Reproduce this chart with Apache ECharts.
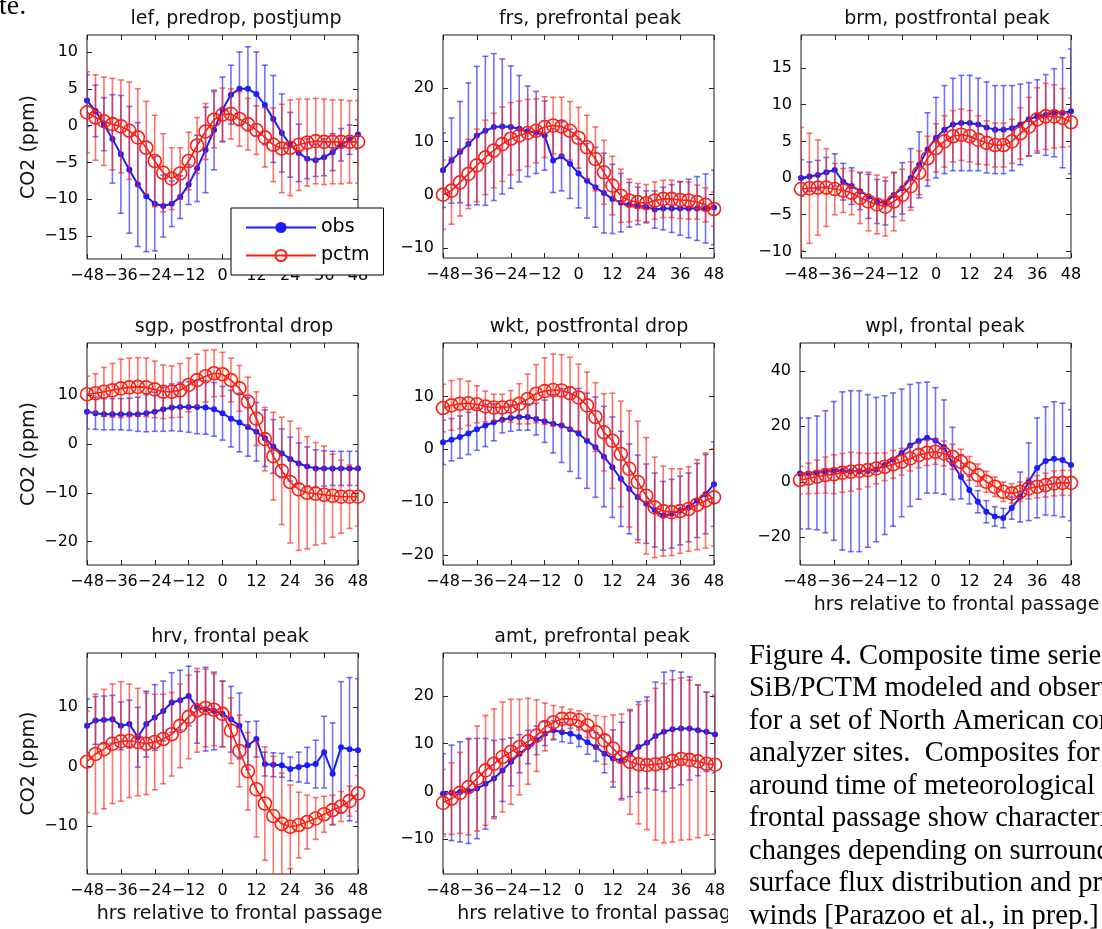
<!DOCTYPE html>
<html>
<head>
<meta charset="utf-8">
<script src="https://cdn.jsdelivr.net/npm/echarts@6/dist/echarts.min.js"></script>
<style>
  html, body { margin: 0; padding: 0; background: #fff; }
  #chart { width: 1102px; height: 929px; }
</style>
</head>
<body>
<div id="chart"></div>
<script>
const hours = [-48, -45, -42, -39, -36, -33, -30, -27, -24, -21, -18, -15, -12, -9, -6, -3, 0,
  3, 6, 9, 12, 15, 18, 21, 24, 27, 30, 33, 36, 39, 42, 45, 48];

// lef, predrop, postjump
const lefObs = [3.4, 2.0, 0.2, -1.8, -3.9, -6.0, -8.0, -9.6, -10.6, -10.9, -10.6, -9.7, -8.0, -5.8, -3.3, -0.6, 2.2,
  4.2, 5.0, 5.0, 4.3, 2.8, 0.9, -1.0, -2.6, -3.7, -4.5, -4.7, -4.3, -3.6, -2.6, -1.9, -1.2];
const lefObsErr = [3.5, 3.5, 3.6, 6.0, 8.0, 8.6, 8.4, 7.5, 6.4, 4.2, 3.1, 2.9, 2.7, 4.5, 5.8, 5.4, 4.4,
  4.0, 5.0, 5.7, 5.7, 5.4, 5.9, 5.3, 4.4, 3.9, 2.7, 2.2, 2.5, 2.5, 2.2, 2.0, 2.0];
const lefPctm = [1.8, 1.1, 0.6, 0.2, -0.1, -0.7, -1.6, -3.0, -4.8, -6.4, -7.2, -6.5, -4.8, -2.7, -0.8, 0.8, 1.5,
  1.6, 0.9, 0.2, -0.6, -1.6, -2.6, -3.1, -3.0, -2.6, -2.3, -2.1, -2.2, -2.2, -2.2, -2.2, -2.2];
const lefPctmErr = [5.5, 5.8, 6.0, 6.2, 6.3, 6.6, 6.6, 6.3, 6.2, 5.3, 4.2, 3.5, 3.9, 3.8, 3.8, 3.8, 3.6,
  3.4, 3.7, 3.5, 3.3, 4.0, 5.0, 6.0, 6.5, 6.2, 5.9, 5.8, 5.8, 5.7, 5.7, 5.6, 5.6];
const lefTicks = [-15, -10, -5, 0, 5, 10];

// frs, prefrontal peak
const frsObs = [4.6, 6.4, 8.0, 9.5, 11.1, 12.0, 12.7, 12.8, 12.7, 12.4, 11.9, 11.7, 11.1, 6.4, 7.2, 5.8, 4.0,
  2.6, 1.4, 0.3, -0.8, -1.5, -1.9, -2.1, -2.3, -2.8, -2.6, -2.6, -2.6, -2.6, -2.6, -2.6, -2.4];
const frsObsErr = [7, 8, 9.5, 11.5, 13, 14, 13.8, 12.7, 11.5, 10, 8.5, 7.7, 6.5, 6, 6.5, 6.5, 6.5,
  7, 7.5, 7.5, 6.5, 5.5, 4.2, 3.5, 3, 3.5, 4, 4.5, 5, 5.5, 6, 6.5, 7];
const frsPctm = [0, 0.75, 2.3, 3.9, 5.5, 7.0, 8.3, 9.5, 10.5, 11.1, 11.6, 12.0, 12.7, 13.0, 12.8, 12.0, 10.7,
  8.9, 6.7, 4.2, 1.7, -0.2, -1.1, -1.4, -1.6, -1.1, -0.8, -0.8, -1.0, -1.1, -1.4, -1.9, -2.7];
const frsPctmErr = [6.5, 6.3, 6.3, 6.5, 6.8, 7, 7, 7, 6.8, 6.5, 6.3, 6, 5.7, 5.3, 5.5, 5.5, 5.7,
  6, 6, 6, 5.5, 5, 4, 3.5, 3.5, 3.5, 3.5, 3.5, 3.5, 3.5, 3.2, 3.2, 3.2];
const frsTicks = [-10, 0, 10, 20];

// brm, postfrontal peak
const brmObs = [0, 0.2, 0.4, 0.8, 1.1, -0.5, -1.1, -1.8, -2.5, -3.2, -3.4, -2.3, -1.4, 0, 1.8, 3.9, 5.5,
  6.6, 7.3, 7.5, 7.5, 7.3, 6.9, 6.6, 6.6, 6.8, 7.3, 8.0, 8.4, 8.6, 8.9, 8.9, 9.1];
const brmObsErr = [2.5, 2, 2, 2, 2.2, 2.5, 2.5, 2.5, 3, 3, 3, 3, 3.5, 4, 4.5, 5, 5.5,
  6, 6.3, 6.5, 6.5, 6.3, 6.2, 6, 6, 5.8, 5.5, 5, 5, 5.5, 6, 7.5, 8.5];
const brmPctm = [-1.5, -1.4, -1.3, -1.3, -1.5, -1.7, -2.0, -2.7, -3.2, -3.6, -3.9, -3.2, -2.3, -1.1, 0.7, 2.7, 4.1,
  5.0, 5.7, 5.9, 5.7, 5.2, 4.8, 4.5, 4.5, 5.0, 6.1, 7.0, 8.0, 8.4, 8.4, 8.2, 7.6];
const brmPctmErr = [8.4, 7.5, 6.5, 5.3, 3.5, 3, 3, 3.5, 4, 4, 4, 4, 3.5, 3.3, 3, 3, 3.3,
  3.5, 3.5, 3.5, 3.5, 3.3, 3, 3, 3, 3, 3.5, 4, 4.3, 4.5, 4.3, 4, 3.3];
const brmTicks = [-10, -5, 0, 5, 10, 15];

// sgp, postfrontal drop
const sgpObs = [6.6, 6.3, 6.1, 6.1, 6.1, 6.1, 6.1, 6.3, 6.6, 7.1, 7.5, 7.6, 7.6, 7.6, 7.5, 7.1, 6.3,
  5.2, 4.4, 3.5, 2.5, 1.2, -0.5, -1.9, -3.1, -4.0, -4.6, -5.0, -5.0, -5.0, -5.0, -5.0, -5.0];
const sgpObsErr = [3.5, 3.3, 3.2, 3.2, 3.2, 3.3, 3.5, 3.8, 4, 4.5, 4.8, 5, 5.2, 5.5, 5.5, 5.5, 5.5,
  5.8, 6, 6, 6, 5.8, 5.5, 5, 4.5, 4.2, 4, 3.8, 3.6, 3.5, 3.5, 3.5, 3.5];
const sgpPctm = [10.2, 10.4, 10.7, 11.0, 11.4, 11.6, 11.7, 11.6, 11.2, 10.7, 10.7, 11.0, 12.1, 13.1, 13.9, 14.5, 14.3,
  13.1, 11.4, 8.7, 5.2, 1.0, -2.5, -5.5, -7.8, -9.3, -10.0, -10.2, -10.4, -10.6, -10.8, -10.8, -10.8];
const sgpPctmErr = [3.7, 4, 5, 5.5, 6, 6, 6, 6, 5.8, 5.5, 5.3, 5.5, 5.5, 5.3, 5.3, 4.8, 4.5,
  4.5, 4.7, 5, 5.5, 6.5, 9, 11, 12.5, 12.5, 11.5, 10.5, 10, 8.5, 7.5, 6.5, 6];
const sgpTicks = [-20, -10, 0, 10];

// wkt, postfrontal drop
const wktObs = [1.3, 1.8, 2.3, 3.0, 3.8, 4.5, 5.1, 5.6, 5.9, 6.1, 6.1, 5.7, 5.3, 4.8, 4.5, 3.8, 3.0,
  1.6, 0.4, -1.4, -3.4, -5.6, -7.5, -9.1, -10.3, -11.5, -12.6, -12.2, -11.6, -11.0, -9.7, -8.5, -6.6];
const wktObsErr = [4.2, 4, 4, 4, 4, 4, 3.5, 2.5, 2.5, 2.5, 2.5, 3, 4, 5.5, 7, 8, 8.5,
  9, 9.5, 9.5, 9.5, 9, 8.5, 8, 7.5, 7, 6.5, 6.5, 6.5, 6.5, 7, 7.5, 8];
const wktPctm = [7.8, 8.3, 8.6, 8.7, 8.5, 8.1, 7.9, 7.9, 8.1, 8.6, 9.5, 10.5, 11.0, 11.2, 11.1, 10.6, 9.8,
  8.3, 6.1, 3.2, 1.6, -0.9, -3.7, -6.2, -8.8, -11.0, -11.7, -11.9, -11.7, -11.3, -10.5, -9.7, -9.1];
const wktPctmErr = [4.5, 4.7, 4.7, 4.2, 3.5, 2.9, 2.5, 2.5, 3, 3.8, 4.7, 5.5, 6.3, 6.8, 6.8, 6.8, 6.3,
  6.3, 6.5, 7.3, 9, 10, 11, 11.5, 11, 9.5, 8.5, 8.2, 8, 8, 8.5, 9, 9.2];
const wktTicks = [-20, -10, 0, 10];

// wpl, frontal peak
const wplObs = [3.0, 3.0, 3.2, 3.6, 3.9, 3.9, 3.8, 3.8, 3.9, 4.4, 6.0, 8.0, 10.4, 13.1, 14.7, 15.9, 14.9,
  12.5, 6.6, 1.8, -3.0, -7.2, -10.8, -12.5, -13.1, -9.5, -5.5, 0.0, 5.0, 7.5, 8.3, 7.8, 6.0];
const wplObsErr = [20, 20, 20.5, 22, 25, 28.5, 29, 29, 27.5, 26, 25, 24, 23, 22, 21, 20, 19,
  17, 13, 8, 5, 4, 4, 3.5, 3.5, 4, 9, 14, 18, 19.5, 20.5, 20.5, 20];
const wplPctm = [0.6, 1.2, 1.8, 2.4, 2.7, 3.2, 3.6, 3.9, 4.2, 4.8, 5.4, 6.3, 7.2, 8.4, 9.6, 10.4, 10.8,
  10.2, 9.0, 7.2, 4.8, 2.4, 0.0, -1.8, -3.6, -4.2, -3.6, -2.4, -1.8, -1.2, -0.6, -0.4, -0.4];
const wplPctmErr = [5, 5.5, 6, 6.5, 7, 7, 7, 6.5, 6, 5.5, 5, 5, 4.8, 4.5, 4.5, 4.5, 4.5,
  4.5, 4.5, 4.5, 4.3, 4, 3.8, 3.5, 3.5, 3.5, 3.5, 3.8, 4, 4.3, 4.5, 4.5, 4.5];
const wplTicks = [-20, 0, 20, 40];

// hrv, frontal peak
const hrvObs = [6.8, 7.7, 7.8, 7.9, 6.8, 7.1, 4.9, 7.1, 8.2, 9.3, 10.7, 11.1, 11.8, 9.9, 9.6, 9.3, 8.8,
  7.9, 6.8, 3.5, 4.6, 0.4, 0.3, 0.2, -0.4, -0.1, 0.2, 0.4, 2.4, -1.2, 3.2, 2.9, 2.7];
const hrvObsErr = [4.5, 4, 4, 4, 4, 4, 5, 5.5, 5.5, 5, 5, 5, 5, 6, 7, 6.5, 5.5,
  5.5, 5.5, 4, 3, 2, 2, 2, 2, 2.5, 3, 4, 6, 8.5, 11, 12, 12];
const hrvPctm = [0.8, 2.1, 2.9, 3.8, 4.2, 4.3, 4.1, 3.8, 4.1, 4.6, 5.4, 6.8, 8.3, 9.4, 9.8, 9.5, 8.8,
  6.0, 2.6, -0.8, -3.8, -6.2, -8.3, -9.6, -10.1, -9.8, -9.3, -8.7, -8.0, -7.3, -6.7, -5.8, -4.5];
const hrvPctmErr = [8.5, 10, 10, 10, 10, 9.5, 9, 8.5, 8, 7.5, 7, 7, 7, 7, 6.5, 6, 5.5,
  5.5, 6, 6.5, 8, 9.5, 10, 8.5, 7, 5.5, 4.5, 3.5, 3, 2.5, 2.5, 2.5, 3];
const hrvTicks = [-10, 0, 10];

// amt, prefrontal peak
const amtObs = [-0.5, -0.3, -0.1, 0.1, 0.6, 1.6, 2.7, 4.4, 6.2, 7.9, 9.3, 10.7, 12.1, 12.8, 12.4, 12.1, 11.4,
  10.3, 9.3, 7.9, 6.9, 6.5, 7.9, 9.3, 10.2, 11.6, 12.5, 13.0, 13.2, 13.2, 12.8, 12.5, 11.9];
const amtObsErr = [8.4, 10, 10.5, 11, 10.5, 9.5, 8, 6.5, 5, 4, 3.5, 3, 2.5, 2, 2, 2, 2,
  2.5, 3, 4, 6, 8, 9, 9.5, 9.6, 11.3, 12.5, 12.3, 11.8, 10.8, 9.5, 8.3, 8];
const amtPctm = [-2.4, -1.5, -0.3, 0.9, 2.7, 4.4, 5.8, 7.2, 8.3, 9.3, 10.5, 11.7, 13.5, 14.5, 15.2, 15.2, 14.9,
  13.8, 12.4, 10.7, 9.0, 7.2, 6.2, 5.7, 5.5, 5.7, 5.9, 6.4, 6.8, 6.6, 6.3, 5.8, 5.6];
const amtPctmErr = [7, 7.5, 8.5, 10, 11, 11.5, 11.5, 11.5, 11, 10, 9, 7.5, 5, 3.5, 2.5, 2, 2,
  2.5, 3.5, 5, 7, 9, 11, 12.5, 13.5, 15.9, 16.7, 17, 17, 16.7, 16, 15, 14.6];
const amtTicks = [-10, 0, 10, 20];

const captionLines = [
  'Figure 4. Composite time series',
  'SiB/PCTM modeled and observ',
  'for a set of North American con',
  'analyzer sites.  Composites for',
  'around time of meteorological',
  'frontal passage show characteri',
  'changes depending on surround',
  'surface flux distribution and pr',
  'winds [Parazoo et al., in prep.]'
];

const panels = [
  { title: 'lef, predrop, postjump', obs: lefObs, obsErr: lefObsErr, pctm: lefPctm, pctmErr: lefPctmErr, yMin: -18.1, yMax: 12.3, ticks: lefTicks },
  { title: 'frs, prefrontal peak', obs: frsObs, obsErr: frsObsErr, pctm: frsPctm, pctmErr: frsPctmErr, yMin: -11.9, yMax: 30, ticks: frsTicks },
  { title: 'brm, postfrontal peak', obs: brmObs, obsErr: brmObsErr, pctm: brmPctm, pctmErr: brmPctmErr, yMin: -10.9, yMax: 19.5, ticks: brmTicks },
  { title: 'sgp, postfrontal drop', obs: sgpObs, obsErr: sgpObsErr, pctm: sgpPctm, pctmErr: sgpPctmErr, yMin: -24.8, yMax: 20.7, ticks: sgpTicks },
  { title: 'wkt, postfrontal drop', obs: wktObs, obsErr: wktObsErr, pctm: wktPctm, pctmErr: wktPctmErr, yMin: -21.9, yMax: 20.1, ticks: wktTicks },
  { title: 'wpl, frontal peak', obs: wplObs, obsErr: wplObsErr, pctm: wplPctm, pctmErr: wplPctmErr, yMin: -30, yMax: 50, ticks: wplTicks },
  { title: 'hrv, frontal peak', obs: hrvObs, obsErr: hrvObsErr, pctm: hrvPctm, pctmErr: hrvPctmErr, yMin: -18, yMax: 19, ticks: hrvTicks },
  { title: 'amt, prefrontal peak', obs: amtObs, obsErr: amtObsErr, pctm: amtPctm, pctmErr: amtPctmErr, yMin: -17.3, yMax: 29, ticks: amtTicks }
];

// box = [left, top, width, height]; titles sit a little right of the box centre in the original
const layout = [
  { box: [87, 35, 271, 224], titleAt: [236, 19], yName: true },
  { box: [443, 35, 271, 223], titleAt: [590, 19] },
  { box: [801, 35, 270, 223], titleAt: [947, 19] },
  { box: [87, 343, 271, 222], titleAt: [234, 327], yName: true },
  { box: [443, 343, 271, 222], titleAt: [589, 327] },
  { box: [800, 343, 271, 222], titleAt: [945, 327], xShift: 21 },
  { box: [87, 653, 271, 221], titleAt: [230, 637], yName: true, xShift: 17 },
  { box: [443, 653, 272, 221], titleAt: [592, 637], xShift: 21 }
];

const BLUE = '#1c1cff';
const RED = '#ff1f0f';
const SANS = 'DejaVu Sans';
const minus = v => (v < 0 ? '\u2212' + Math.abs(v) : String(v));

function errorBars(color) {
  return function (params, api) {
    const x = api.value(0);
    const top = api.coord([x, api.value(2)]);
    const bot = api.coord([x, api.value(1)]);
    const style = { stroke: color, lineWidth: 1.6, opacity: 0.62 };
    return {
      type: 'group',
      children: [
        { type: 'line', shape: { x1: top[0], y1: top[1], x2: bot[0], y2: bot[1] }, style: style },
        { type: 'line', shape: { x1: top[0] - 3, y1: top[1], x2: top[0] + 3, y2: top[1] }, style: style },
        { type: 'line', shape: { x1: bot[0] - 3, y1: bot[1], x2: bot[0] + 3, y2: bot[1] }, style: style }
      ]
    };
  };
}

const grid = [], xAxis = [], yAxis = [], series = [], graphic = [];
const noLine = { show: false, onZero: false };

panels.forEach(function (p, i) {
  const L = layout[i];
  grid.push({
    left: L.box[0], top: L.box[1], width: L.box[2], height: L.box[3],
    show: true, borderColor: '#1a1a1a', borderWidth: 1, backgroundColor: 'rgba(0,0,0,0)',
    containLabel: false, outerBoundsMode: 'none'
  });

  const tickStyle = { show: true, inside: true, length: 5, lineStyle: { color: '#222', width: 1 } };
  const xBottom = {
    gridIndex: i, type: 'value', min: -48, max: 48, interval: 12, position: 'bottom',
    axisLine: noLine, splitLine: { show: false }, axisTick: tickStyle,
    axisLabel: { fontFamily: SANS, fontSize: 16, color: '#000', margin: 9, formatter: minus, hideOverlap: false }
  };
  if (L.xShift) {
    xBottom.name = 'hrs relative to frontal passage';
    xBottom.nameLocation = 'middle';
    xBottom.nameGap = 31;
    xBottom.nameTextStyle = { fontFamily: SANS, fontSize: 19, color: '#111', padding: [0, 0, 0, 2 * L.xShift] };
  }
  xAxis.push(xBottom);
  xAxis.push({
    gridIndex: i, type: 'value', min: -48, max: 48, interval: 12, position: 'top',
    axisLine: noLine, splitLine: { show: false }, axisTick: tickStyle, axisLabel: { show: false }
  });

  const yLeft = {
    gridIndex: i, type: 'value', min: p.yMin, max: p.yMax, position: 'left',
    axisLine: noLine, splitLine: { show: false },
    axisTick: Object.assign({ customValues: p.ticks }, tickStyle),
    axisLabel: { customValues: p.ticks, fontFamily: SANS, fontSize: 16, color: '#000', margin: 9, formatter: minus }
  };
  if (L.yName) {
    yLeft.name = 'CO2 (ppm)';
    yLeft.nameLocation = 'middle';
    yLeft.nameGap = 48;
    yLeft.nameTextStyle = { fontFamily: SANS, fontSize: 19, color: '#111' };
  }
  yAxis.push(yLeft);
  yAxis.push({
    gridIndex: i, type: 'value', min: p.yMin, max: p.yMax, position: 'right',
    axisLine: noLine, splitLine: { show: false },
    axisTick: Object.assign({ customValues: p.ticks }, tickStyle),
    axisLabel: { show: false }
  });

  const xi = 2 * i, yi = 2 * i;
  series.push({
    name: 'obs err', type: 'custom', xAxisIndex: xi, yAxisIndex: yi, clip: true, z: 2,
    renderItem: errorBars(BLUE), encode: { x: 0, y: [1, 2] },
    data: hours.map((h, k) => [h, p.obs[k] - p.obsErr[k], p.obs[k] + p.obsErr[k]])
  });
  series.push({
    name: 'obs', type: 'line', xAxisIndex: xi, yAxisIndex: yi, z: 3,
    symbol: 'circle', symbolSize: 6, showAllSymbol: true,
    lineStyle: { color: BLUE, width: 2 }, itemStyle: { color: BLUE },
    data: hours.map((h, k) => [h, p.obs[k]])
  });
  series.push({
    name: 'pctm err', type: 'custom', xAxisIndex: xi, yAxisIndex: yi, clip: true, z: 4,
    renderItem: errorBars(RED), encode: { x: 0, y: [1, 2] },
    data: hours.map((h, k) => [h, p.pctm[k] - p.pctmErr[k], p.pctm[k] + p.pctmErr[k]])
  });
  series.push({
    name: 'pctm', type: 'line', xAxisIndex: xi, yAxisIndex: yi, z: 5,
    symbol: 'circle', symbolSize: 13, showAllSymbol: true,
    lineStyle: { color: RED, width: 1.6 },
    itemStyle: { color: 'rgba(255,255,255,0)', borderColor: RED, borderWidth: 1.6 },
    data: hours.map((h, k) => [h, p.pctm[k]])
  });

  graphic.push({
    type: 'text', x: L.titleAt[0], y: L.titleAt[1],
    style: { text: p.title, font: '19px "DejaVu Sans"', fill: '#111', align: 'center', verticalAlign: 'middle' }
  });
});

// caption block on the lower right, on white paper that hides what lies under it
graphic.push({
  type: 'rect', z: 100, shape: { x: 728, y: 628, width: 374, height: 301 }, style: { fill: '#fff' }
});
graphic.push({
  type: 'text', z: 101, x: 749, y: 640,
  style: { text: captionLines.join('\n'), font: '28.5px "Liberation Serif"', lineHeight: 32.5, fill: '#000', verticalAlign: 'top' }
});
graphic.push({
  type: 'text', z: 101, x: -1, y: 7,
  style: { text: 'te.', font: '28px "Liberation Serif"', fill: '#000', verticalAlign: 'middle' }
});

const chart = echarts.init(document.getElementById('chart'), null, { renderer: 'canvas' });
chart.setOption({
  animation: false,
  backgroundColor: '#fff',
  grid: grid,
  xAxis: xAxis,
  yAxis: yAxis,
  legend: {
    data: ['obs', 'pctm'],
    orient: 'vertical',
    left: 231, top: 208,
    padding: [10, 14, 10, 14],
    itemWidth: 70, itemHeight: 14, itemGap: 9,
    borderColor: '#000', borderWidth: 1, borderRadius: 0, backgroundColor: '#fff',
    selectedMode: false,
    textStyle: { fontFamily: SANS, fontSize: 19, color: '#000' }
  },
  series: series,
  graphic: graphic
});
</script>
</body>
</html>
